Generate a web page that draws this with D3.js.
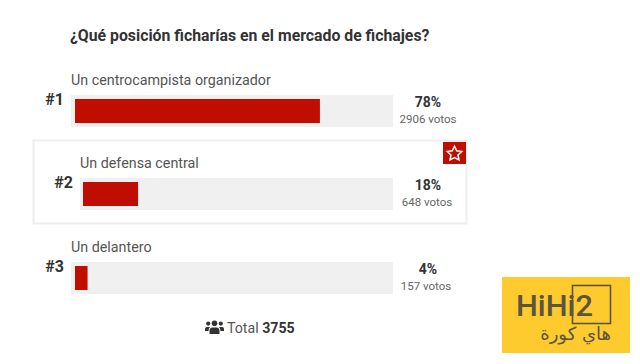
<!DOCTYPE html>
<html>
<head>
<meta charset="utf-8">
<script src="https://cdn.jsdelivr.net/npm/d3@7"></script>
<style>
  html, body { margin: 0; padding: 0; background: #fff; }
  text { font-family: Roboto, sans-serif; }
</style>
</head>
<body>
<div id="chart"></div>
<script>
const title = "¿Qué posición ficharías en el mercado de fichajes?";
const options = ["Un centrocampista organizador", "Un defensa central", "Un delantero"];
const ranks = ["#1", "#2", "#3"];
const percents = [78, 18, 4];
const votes = [2906, 648, 157];
const total = 3755;

const rowTop = [95, 178, 262];
const trackLeft = [71, 80, 71];
const fillLeft = [75, 83, 75];
const votesX = [428, 427, 426];
const trackRight = 393;
const trackH = 32;
const red = "#bf0d00";

const svg = d3.select("#chart").append("svg")
    .attr("width", 640)
    .attr("height", 364)
    .style("display", "block");

svg.append("text")
    .attr("x", 70).attr("y", 41)
    .attr("font-size", 15.8).attr("font-weight", 700).attr("fill", "#333")
    .text(title);

// highlighted card behind the second row
svg.append("rect")
    .attr("x", 33.5).attr("y", 140.5).attr("width", 433).attr("height", 83)
    .attr("fill", "#fff").attr("stroke", "#eeeeee").attr("stroke-width", 2);

options.forEach((opt, i) => {
    const g = svg.append("g");
    const x = d3.scaleLinear().domain([0, 100]).range([fillLeft[i], trackRight - 4]);
    const y = rowTop[i];

    g.append("text")
        .attr("x", trackLeft[i]).attr("y", y - 10)
        .attr("font-size", 14.3).attr("fill", "#555")
        .text(opt);

    g.append("text")
        .attr("x", i == 1 ? 73 : 64).attr("y", y + 10)
        .attr("text-anchor", "end")
        .attr("font-size", 16).attr("font-weight", 700).attr("fill", "#333")
        .text(ranks[i]);

    g.append("rect")
        .attr("x", trackLeft[i]).attr("y", y)
        .attr("width", trackRight - trackLeft[i]).attr("height", trackH)
        .attr("fill", "#f0f0f0");

    g.append("rect")
        .attr("x", x(0)).attr("y", y + 4)
        .attr("width", x(percents[i]) - x(0)).attr("height", trackH - 8)
        .attr("fill", red);

    g.append("text")
        .attr("x", 428).attr("y", y + 12)
        .attr("text-anchor", "middle")
        .attr("font-size", 14).attr("font-weight", 700).attr("fill", "#333")
        .text(percents[i] + "%");

    g.append("text")
        .attr("x", votesX[i]).attr("y", y + 28)
        .attr("text-anchor", "middle")
        .attr("font-size", 11.5).attr("fill", "#666")
        .text(votes[i] + " votos");
});

// star badge
svg.append("rect")
    .attr("x", 443).attr("y", 142).attr("width", 23).attr("height", 22)
    .attr("fill", red);
const starPoints = d3.range(10).map(k => [k * Math.PI / 5, k % 2 ? 3.7 : 7.6]);
svg.append("path")
    .attr("d", d3.lineRadial().curve(d3.curveLinearClosed)(starPoints))
    .attr("transform", "translate(454.5,153.8)")
    .attr("fill", "none").attr("stroke", "#fff").attr("stroke-width", 1.5);

// users icon + total
const icon = svg.append("g").attr("fill", "#333").attr("transform", "translate(205,321)");
[[3.2, 2.6, 2.1], [9.5, 2.2, 2.8], [15.8, 2.6, 2.1]].forEach(c => {
    icon.append("circle").attr("cx", c[0]).attr("cy", c[1]).attr("r", c[2]);
});
icon.append("path").attr("d", "M0 10V8Q0 6 2 6H5Q3.5 7.5 3.5 10Z");
icon.append("path").attr("d", "M19 10V8Q19 6 17 6H14Q15.5 7.5 15.5 10Z");
icon.append("path").attr("d", "M4.5 13V10Q4.5 6.5 7.5 6.5H11.5Q14.5 6.5 14.5 10V13Z");

const totalText = svg.append("text")
    .attr("x", 227).attr("y", 333)
    .attr("font-size", 14.2).attr("fill", "#555");
totalText.append("tspan").text("Total ");
totalText.append("tspan").attr("font-weight", 700).attr("fill", "#333").text(total);

// watermark
const logo = svg.append("g");
logo.append("rect")
    .attr("x", 502).attr("y", 277).attr("width", 128).attr("height", 76)
    .attr("fill", "#fecb2f");
logo.append("rect")
    .attr("x", 572.5).attr("y", 285.5).attr("width", 38).attr("height", 38)
    .attr("fill", "none").attr("stroke", "#5c5340").attr("stroke-width", 1.6);
logo.append("text")
    .attr("x", 516).attr("y", 316)
    .attr("font-size", 30).attr("font-weight", 500).attr("fill", "#5c5340")
    .attr("textLength", 77).attr("lengthAdjust", "spacingAndGlyphs")
    .text("HiHi2");
logo.append("text")
    .attr("x", 611).attr("y", 340)
    .attr("text-anchor", "start").attr("direction", "rtl")
    .attr("font-size", 18).attr("fill", "#5c5340")
    .style("font-family", "'DejaVu Sans', sans-serif")
    .text("هاي كورة");
</script>
</body>
</html>
